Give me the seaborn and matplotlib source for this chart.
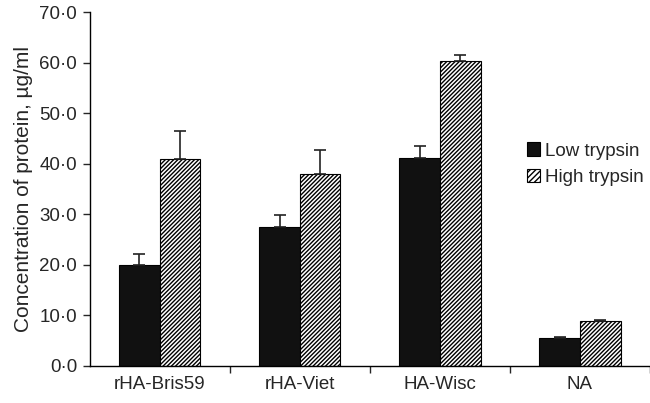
import numpy as np
import pandas as pd
import matplotlib
matplotlib.use("Agg")
import matplotlib.pyplot as plt
import seaborn as sns
from matplotlib.ticker import FuncFormatter

categories = ["rHA-Bris59", "rHA-Viet", "HA-Wisc", "NA"]
low_trypsin = [20.0, 27.4, 41.2, 5.6]
high_trypsin = [41.0, 38.0, 60.3, 8.8]
low_err = [2.1, 2.5, 2.4, 0.2]
high_err = [5.5, 4.8, 1.2, 0.2]
series_names = ["Low trypsin", "High trypsin"]

sns.set_style("white")
plt.rcParams["font.family"] = ["Liberation Sans", "DejaVu Sans"]
plt.rcParams["hatch.linewidth"] = 1.0

df = pd.DataFrame({
    "cat": categories * 2,
    "val": low_trypsin + high_trypsin,
    "series": [series_names[0]] * 4 + [series_names[1]] * 4,
})

fig, ax = plt.subplots(figsize=(6.5, 4.03), dpi=100)
fig.subplots_adjust(left=0.138, right=1.0, top=0.97, bottom=0.092)

sns.barplot(data=df, x="cat", y="val", hue="series", order=categories,
            hue_order=series_names, palette=["#111111", "white"],
            width=0.58, edgecolor="black", linewidth=0.8, errorbar=None,
            legend=True, ax=ax)

n = len(categories)
for i, p in enumerate(ax.patches[:2 * n]):
    if i >= n:
        p.set_hatch("////////")
        p.set_facecolor("white")
    err = low_err[i] if i < n else high_err[i - n]
    xc = p.get_x() + p.get_width() / 2
    h = p.get_height()
    ax.errorbar([xc], [h], yerr=[[0], [err]], fmt="none", ecolor="#222222",
                elinewidth=1.2, capsize=4, capthick=1.2)

ax.set_ylim(0, 70)
ax.set_xlim(-0.5, n - 0.5)
ax.set_yticks(np.arange(0, 71, 10))
ax.yaxis.set_major_formatter(FuncFormatter(lambda v, pos: f"{v:.1f}".replace(".", "\u00b7")))
ax.set_xticks(range(n))
ax.set_xticklabels(categories)
ax.set_xticks(np.arange(0.5, n, 1), minor=True)
ax.tick_params(axis="x", which="major", length=0, labelsize=13.5, pad=7)
ax.tick_params(axis="x", which="minor", length=5, width=1, direction="out", bottom=True)
ax.tick_params(axis="y", length=5, width=1, direction="out", left=True, labelsize=13.5, pad=4)
ax.set_xlabel("")
ax.set_ylabel("Concentration of protein, \u00b5g/ml", fontsize=15, labelpad=5)

for s in ["top", "right"]:
    ax.spines[s].set_visible(False)
for s in ["left", "bottom"]:
    ax.spines[s].set_color("black")
    ax.spines[s].set_linewidth(1)

leg = ax.legend(loc="center left", bbox_to_anchor=(0.78, 0.57), frameon=False,
                fontsize=13.5, handlelength=0.7, handleheight=0.7,
                handletextpad=0.3, labelspacing=0.5, borderpad=0,
                borderaxespad=0)
leg.legend_handles[1].set_hatch("//////")
leg.legend_handles[1].set_facecolor("white")

fig.savefig("out.png", dpi=100)
